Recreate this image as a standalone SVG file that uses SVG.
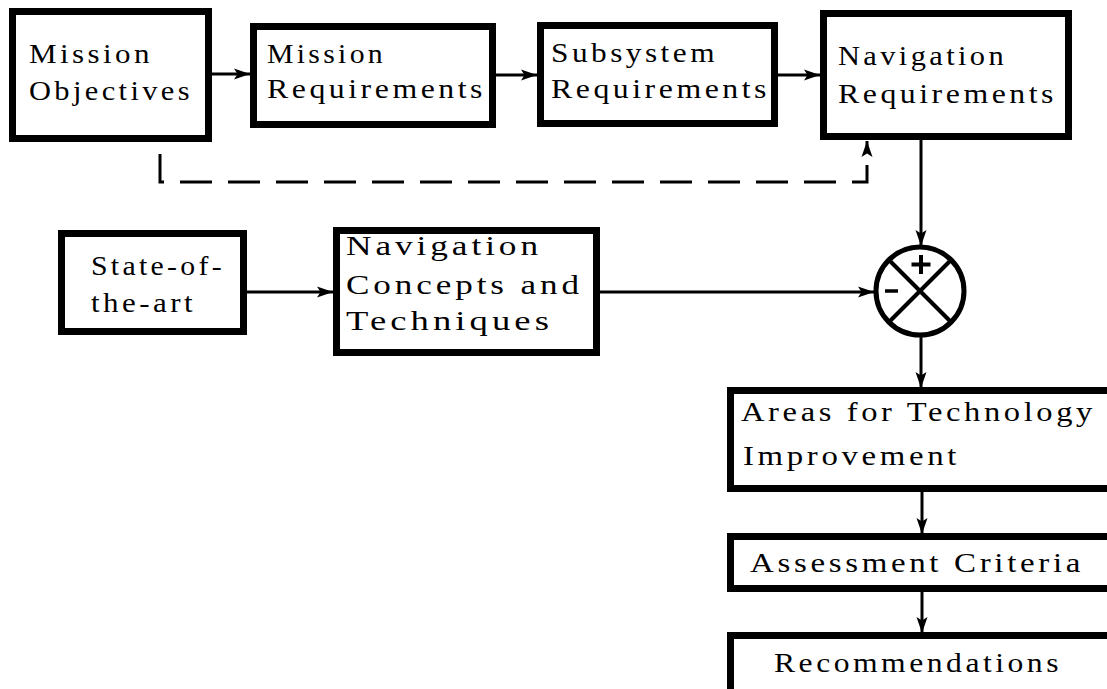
<svg xmlns="http://www.w3.org/2000/svg" width="1107" height="689" viewBox="0 0 1107 689">
  <style>
    .box { fill: #fff; stroke: #000; stroke-width: 7; stroke-linejoin: miter; }
    .lbl { font-size: 27px; letter-spacing: 3px; fill: #000; }
    .wire { fill: none; stroke: #000; stroke-width: 3; }
    .dash { fill: none; stroke: #000; stroke-width: 3; stroke-dasharray: 32 16; }
    .sum { fill: #fff; stroke: #000; stroke-width: 5; }
    .mark { stroke: #000; fill: none; }
  </style>
  <defs>
    <marker id="arrow" markerUnits="userSpaceOnUse" markerWidth="17" markerHeight="12" refX="16" refY="6" orient="auto">
      <path d="M0,0.5 L16,6 L0,11.5 L3.5,6 Z" fill="#000"/>
    </marker>
  </defs>
  <rect width="1107" height="689" fill="#fff"/>

  <g id="connectors">
    <line class="wire" x1="212" y1="74" x2="250" y2="74" marker-end="url(#arrow)"/>
    <line class="wire" x1="496" y1="75" x2="537" y2="75" marker-end="url(#arrow)"/>
    <line class="wire" x1="778" y1="75" x2="820" y2="75" marker-end="url(#arrow)"/>
    <path class="dash" d="M160,142 V182 H867 V141" marker-end="url(#arrow)" stroke-dashoffset="-12"/>
    <line class="wire" x1="921" y1="140" x2="921" y2="246" marker-end="url(#arrow)"/>
    <line class="wire" x1="247" y1="292" x2="333" y2="292" marker-end="url(#arrow)"/>
    <line class="wire" x1="600" y1="292" x2="874" y2="292" marker-end="url(#arrow)"/>
    <line class="wire" x1="921" y1="336" x2="921" y2="388" marker-end="url(#arrow)"/>
    <line class="wire" x1="922" y1="492" x2="922" y2="534" marker-end="url(#arrow)"/>
    <line class="wire" x1="922" y1="592" x2="922" y2="633" marker-end="url(#arrow)"/>
  </g>

  <g font-family="Liberation Serif, Times New Roman, serif">
    <g id="mission-objectives">
      <rect class="box" x="12.5" y="11.5" width="196" height="127"/>
      <text class="lbl" x="29" y="63" textLength="124" lengthAdjust="spacingAndGlyphs">Mission</text>
      <text class="lbl" x="29" y="100" textLength="164" lengthAdjust="spacingAndGlyphs">Objectives</text>
    </g>

    <g id="mission-requirements">
      <rect class="box" x="253.5" y="26.5" width="239" height="98"/>
      <text class="lbl" x="267" y="63" textLength="119" lengthAdjust="spacingAndGlyphs">Mission</text>
      <text class="lbl" x="267" y="98" textLength="219" lengthAdjust="spacingAndGlyphs">Requirements</text>
    </g>

    <g id="subsystem-requirements">
      <rect class="box" x="540.5" y="25.5" width="234" height="98"/>
      <text class="lbl" x="551" y="62" textLength="167" lengthAdjust="spacingAndGlyphs">Subsystem</text>
      <text class="lbl" x="551" y="98" textLength="219" lengthAdjust="spacingAndGlyphs">Requirements</text>
    </g>

    <g id="navigation-requirements">
      <rect class="box" x="823.5" y="13.5" width="245" height="123"/>
      <text class="lbl" x="838" y="65" textLength="169" lengthAdjust="spacingAndGlyphs">Navigation</text>
      <text class="lbl" x="838" y="103" textLength="219" lengthAdjust="spacingAndGlyphs">Requirements</text>
    </g>

    <g id="state-of-the-art">
      <rect class="box" x="61.5" y="233.5" width="182" height="98"/>
      <text class="lbl" x="91" y="275" textLength="134" lengthAdjust="spacingAndGlyphs">State-of-</text>
      <text class="lbl" x="91" y="312" textLength="105" lengthAdjust="spacingAndGlyphs">the-art</text>
    </g>

    <g id="navigation-concepts">
      <rect class="box" x="336.5" y="230.5" width="260" height="122"/>
      <text class="lbl" x="346" y="255" textLength="196" lengthAdjust="spacingAndGlyphs">Navigation</text>
      <text class="lbl" x="346" y="294" textLength="237" lengthAdjust="spacingAndGlyphs">Concepts and</text>
      <text class="lbl" x="346" y="330" textLength="207" lengthAdjust="spacingAndGlyphs">Techniques</text>
    </g>

    <g id="comparator">
      <circle class="sum" cx="920" cy="291" r="44"/>
      <line class="mark" stroke-width="4" x1="889" y1="260" x2="951" y2="322"/>
      <line class="mark" stroke-width="4" x1="951" y1="260" x2="889" y2="322"/>
      <line class="mark" stroke-width="4" x1="921" y1="255" x2="921" y2="274"/>
      <line class="mark" stroke-width="4" x1="911.5" y1="264.5" x2="930.5" y2="264.5"/>
      <line class="mark" stroke-width="3.5" x1="885" y1="291" x2="898" y2="291"/>
    </g>

    <g id="technology-areas">
      <rect class="box" x="730.5" y="390.5" width="400" height="98"/>
      <text class="lbl" x="741" y="421" textLength="355" lengthAdjust="spacingAndGlyphs">Areas for Technology</text>
      <text class="lbl" x="743" y="465" textLength="217" lengthAdjust="spacingAndGlyphs">Improvement</text>
    </g>

    <g id="assessment-criteria">
      <rect class="box" x="730.5" y="536.5" width="400" height="52"/>
      <text class="lbl" x="750" y="572" textLength="334" lengthAdjust="spacingAndGlyphs">Assessment Criteria</text>
    </g>

    <g id="recommendations">
      <rect class="box" x="730.5" y="635.5" width="400" height="60"/>
      <text class="lbl" x="774" y="672" textLength="288" lengthAdjust="spacingAndGlyphs">Recommendations</text>
    </g>
  </g>
</svg>
